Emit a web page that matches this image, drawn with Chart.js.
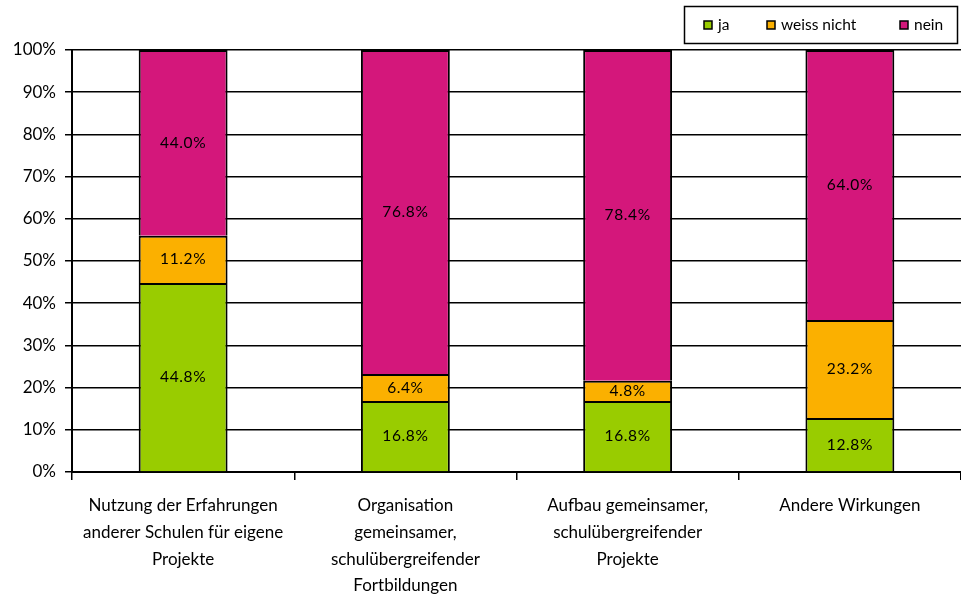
<!DOCTYPE html>
<html><head><meta charset="utf-8">
<script src="https://cdn.jsdelivr.net/npm/chart.js"></script>
<style>html,body{margin:0;padding:0;background:#fff}#wrap{width:961px;height:601px}</style>
</head><body><div id="wrap"><canvas id="c" width="961" height="601"></canvas></div>
<script>
const categories = [
  ["Nutzung der Erfahrungen","anderer Schulen für eigene","Projekte"],
  ["Organisation","gemeinsamer,","schulübergreifender","Fortbildungen"],
  ["Aufbau gemeinsamer,","schulübergreifender","Projekte"],
  ["Andere Wirkungen"]
];
const ja = [44.8, 16.8, 16.8, 12.8];
const weissNicht = [11.2, 6.4, 4.8, 23.2];
const nein = [44.0, 76.8, 78.4, 64.0];
const seriesNames = ["ja", "weiss nicht", "nein"];
const seriesColors = ["#99CC00", "#FBB000", "#D4177B"];
const yTicks = [0,10,20,30,40,50,60,70,80,90,100];

const FONT = "Lato, 'Open Sans', sans-serif";

const labelPlugin = {
  id: 'segLabels',
  afterDatasetsDraw(chart) {
    const ctx = chart.ctx;
    ctx.save();
    ctx.font = "15.5px " + FONT;
    ctx.fillStyle = "#000";
    ctx.textAlign = "center";
    ctx.textBaseline = "middle";
    if ('letterSpacing' in ctx) ctx.letterSpacing = "0.6px";
    chart.data.datasets.forEach((ds, di) => {
      const meta = chart.getDatasetMeta(di);
      meta.data.forEach((bar, i) => {
        const v = ds.data[i];
        const yc = (bar.y + bar.base) / 2;
        ctx.fillText(v.toFixed(1) + "%", bar.x, yc);
      });
    });
    ctx.restore();
  }
};

const legendPlugin = {
  id: 'customLegend',
  afterDraw(chart) {
    const ctx = chart.ctx;
    ctx.save();
    ctx.strokeStyle = "#000";
    ctx.lineWidth = 1.5;
    ctx.strokeRect(684.5, 6.5, 273, 37);
    const xs = [704, 767, 900];
    ctx.font = "15.5px " + FONT;
    ctx.textBaseline = "middle";
    ctx.textAlign = "left";
    chart.data.datasets.forEach((d, i) => {
      ctx.fillStyle = d.backgroundColor;
      ctx.fillRect(xs[i], 21, 8, 8);
      ctx.lineWidth = 1.5;
      ctx.strokeRect(xs[i], 21, 8, 8);
      ctx.fillStyle = "#000";
      ctx.fillText(d.label, xs[i] + 14, 25);
    });
    ctx.restore();
  }
};

new Chart(document.getElementById('c'), {
  type: 'bar',
  data: {
    labels: categories,
    datasets: seriesNames.map((n, i) => ({
      label: n,
      data: [ja, weissNicht, nein][i],
      backgroundColor: seriesColors[i],
      borderColor: '#000', borderWidth: 2, borderSkipped: 'start'
    }))
  },
  options: {
    responsive: false,
    animation: false,
    devicePixelRatio: 1,
    layout: { padding: { left: 0, right: 0, top: 50, bottom: 0 } },
    datasets: { bar: { categoryPercentage: 1.0, barPercentage: 0.4 } },
    plugins: {
      legend: { display: false },
      tooltip: { enabled: false }
    },
    scales: {
      x: {
        stacked: true,
        afterFit(axis) { axis.height = 129; },
        grid: { display: true, offset: true, drawOnChartArea: false, drawTicks: true, tickLength: 8, color: '#000', lineWidth: 1.5 },
        border: { display: true, color: '#000', width: 2 },
        ticks: { font: { family: FONT, size: 17, lineHeight: 1.58 }, color: '#000', maxRotation: 0, autoSkip: false, padding: 12 }
      },
      y: {
        stacked: true, min: 0, max: 100,
        afterFit(axis) { axis.width = 72; },
        afterBuildTicks(axis) { axis.ticks = yTicks.map(v => ({ value: v })); },
        grid: { color: '#000', lineWidth: 1.5, tickLength: 7, drawTicks: true },
        border: { display: true, color: '#000', width: 2 },
        ticks: { font: { family: FONT, size: 17 }, color: '#000', padding: 9, callback: v => v + '%' }
      }
    }
  },
  plugins: [labelPlugin, legendPlugin]
});
</script>
</body></html>
